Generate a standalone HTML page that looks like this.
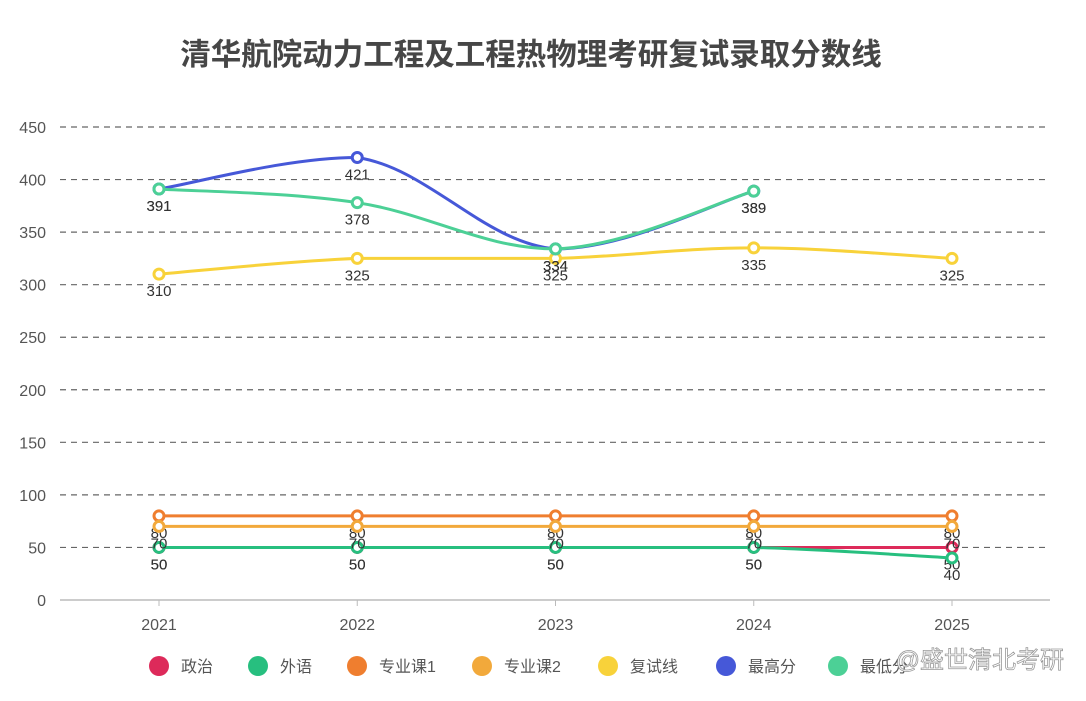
<!DOCTYPE html>
<html><head><meta charset="utf-8"><style>
body{margin:0;background:#fff;font-family:"Liberation Sans","Noto Sans CJK SC",sans-serif}
svg text{font-family:"Liberation Sans","Noto Sans CJK SC",sans-serif}
</style></head><body>
<svg id="c" width="1086" height="696"></svg>
<script>
const years=["2021","2022","2023","2024","2025"];
const yTicks=[0,50,100,150,200,250,300,350,400,450];
const seriesNames=["政治","外语","专业课1","专业课2","复试线","最高分","最低分"];
const colors=["#dd2a5a","#27bf7f","#ef7e2f","#f2a93b","#f8d23a","#4658d8","#4cd096"];
const politics=[50,50,50,50,50];
const language=[50,50,50,50,40];
const major1=[80,80,80,80,80];
const major2=[70,70,70,70,70];
const retestLine=[310,325,325,335,325];
const highest=[391,421,334,389,null];
const lowest=[391,378,334,389,null];
const allSeries=[politics,language,major1,major2,retestLine,highest,lowest];
const legendX=[159,258,357,482,608,726,838];

const svg=document.getElementById('c');const NS='http://www.w3.org/2000/svg';
function mk(t,a,p){const e=document.createElementNS(NS,t);for(const k in a)e.setAttribute(k,a[k]);(p||svg).appendChild(e);return e;}
const x=i=>159+i*198.25;
const y=v=>600-v*(473/450);
let t=mk('text',{x:531,y:65,'text-anchor':'middle','font-size':30.5,'font-weight':'bold',fill:'#464646'});
t.textContent='清华航院动力工程及工程热物理考研复试录取分数线';


yTicks.forEach(v=>{
  if(v>0){const l=mk('line',{x1:60,x2:1050,y1:y(v),y2:y(v),stroke:'#666','stroke-dasharray':'6,5','stroke-width':1.2});
  
  }
  const tt=mk('text',{x:46,y:y(v)+6,'text-anchor':'end','font-size':16,fill:'#555'});tt.textContent=v;
  
  
});
const ax=mk('line',{x1:60,x2:1050,y1:600,y2:600,stroke:'#bbb','stroke-width':1.5});


years.forEach((yr,i)=>{
  mk('line',{x1:x(i),x2:x(i),y1:600,y2:606,stroke:'#bbb'});
  const tt=mk('text',{x:x(i),y:630,'text-anchor':'middle','font-size':16,fill:'#555'});tt.textContent=yr;
  
  
});
function pathFor(pts){
  let d=`M${pts[0][0]},${pts[0][1]}`;const s=0.18;
  for(let i=0;i<pts.length-1;i++){
    const p0=pts[i-1]||pts[i],p1=pts[i],p2=pts[i+1],p3=pts[i+2]||p2;
    let c1y=p1[1]+(p2[1]-p0[1])*s,c2y=p2[1]-(p3[1]-p1[1])*s;
    const lo=Math.min(p1[1],p2[1]),hi=Math.max(p1[1],p2[1]);
    c1y=Math.max(lo,Math.min(hi,c1y));c2y=Math.max(lo,Math.min(hi,c2y));
    d+=` C${p1[0]+(p2[0]-p0[0])*s},${c1y} ${p2[0]-(p3[0]-p1[0])*s},${c2y} ${p2[0]},${p2[1]}`;
  }return d;
}
allSeries.forEach((data,si)=>{
  const g=mk('g',{});
  
  
  const pts=[];data.forEach((v,i)=>{if(v!=null)pts.push([x(i),y(v),v]);});
  const p=mk('path',{d:pathFor(pts),fill:'none',stroke:colors[si],'stroke-width':3},g);
  
  
  pts.forEach(q=>{
    const c=mk('circle',{cx:q[0],cy:q[1],r:5,fill:'#fff',stroke:colors[si],'stroke-width':3},g);
    
    
    const l=mk('text',{x:q[0],y:q[1]+22,'text-anchor':'middle','font-size':15,fill:'#333'},g);l.textContent=q[2];
    
    
  });
});
seriesNames.forEach((n,i)=>{
  const g=mk('g',{});
  
  
  mk('circle',{cx:legendX[i],cy:666,r:10,fill:colors[i]},g);
  const tt=mk('text',{x:legendX[i]+22,y:672,'font-size':16,fill:'#555'},g);tt.textContent=n;
});
const w=mk('text',{x:1064,y:668,'text-anchor':'end','font-size':24,fill:'#fff',stroke:'#999','stroke-width':0.8});
w.textContent='@盛世清北考研';


</script>
</body></html>
